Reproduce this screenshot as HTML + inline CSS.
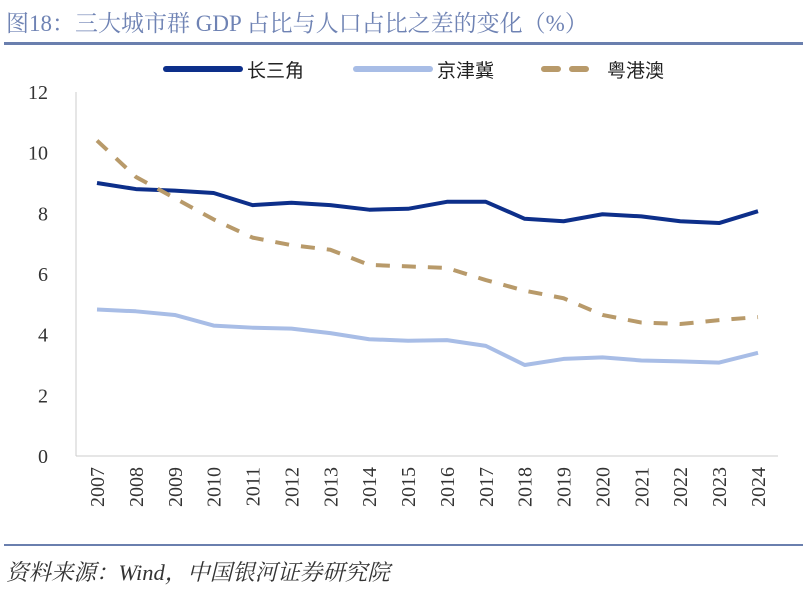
<!DOCTYPE html>
<html><head><meta charset="utf-8"><style>
body{margin:0;background:#fff;width:807px;height:587px;overflow:hidden;font-family:"Liberation Serif","Noto Serif CJK SC",serif}
</style></head><body>
<svg width="807" height="587">
<text x="6" y="31" font-size="23" fill="#6f83b4">图18：三大城市群 GDP 占比与人口占比之差的变化（%）</text>
<rect x="4" y="42" width="799" height="3" fill="#6a7fae"/>
<g id="legend" font-size="19" font-family="Liberation Sans,Noto Sans CJK SC,sans-serif" fill="#222">
<line x1="166" y1="69" x2="240" y2="69" stroke="#0d2f8a" stroke-width="6" stroke-linecap="round"/>
<text x="247" y="77">长三角</text>
<line x1="356" y1="69" x2="430" y2="69" stroke="#a8bde6" stroke-width="6" stroke-linecap="round"/>
<text x="437" y="77">京津冀</text>
<line x1="544" y1="69" x2="590" y2="69" stroke="#b89a6a" stroke-width="6" stroke-linecap="round" stroke-dasharray="14 14"/>
<text x="607" y="77">粤港澳</text>
</g>
<line x1="76" y1="92" x2="76" y2="456" stroke="#ccc"/>
<line x1="76" y1="456" x2="778" y2="456" stroke="#ccc"/>
<g id="yt"></g><g id="xt"></g><g id="lines"></g>
<rect x="4" y="544" width="799" height="2" fill="#6a7fae"/>
<text x="6" y="580" font-size="22.5" font-style="italic" fill="#333">资料来源：Wind，中国银河证券研究院</text>
</svg>
<script>
const years=[2007,2008,2009,2010,2011,2012,2013,2014,2015,2016,2017,2018,2019,2020,2021,2022,2023,2024];
const yrd=[9.0,8.8,8.75,8.67,8.27,8.35,8.27,8.12,8.15,8.38,8.38,7.82,7.74,7.97,7.9,7.74,7.68,8.07];
const bth=[4.83,4.77,4.65,4.3,4.23,4.2,4.05,3.85,3.8,3.82,3.63,3.0,3.2,3.25,3.15,3.12,3.08,3.4];
const gba=[10.4,9.2,8.5,7.8,7.2,6.95,6.8,6.3,6.25,6.2,5.8,5.45,5.2,4.65,4.4,4.35,4.48,4.58];
const yTicks=[0,2,4,6,8,10,12];
const NS='http://www.w3.org/2000/svg';
const X=i=>97+i*(758-97)/(years.length-1);
const Y=v=>456-v*(456-92)/12;
function mk(t,a,p){const e=document.createElementNS(NS,t);for(const k in a)e.setAttribute(k,a[k]);document.getElementById(p).appendChild(e);return e;}
yTicks.forEach(v=>{const t=mk('text',{x:48,y:Y(v)+7,'font-size':20,'text-anchor':'end',fill:'#333'},'yt');t.textContent=v;

});
years.forEach((y,i)=>{const t=mk('text',{x:0,y:0,'font-size':20,'text-anchor':'end',fill:'#333',transform:`translate(${X(i)+7},467) rotate(-90)`},'xt');t.textContent=y;

});
[[yrd,'#0d2f8a','','line-yangtze-delta'],[bth,'#a8bde6','','line-beijing-tianjin-hebei'],[gba,'#b89a6a','14 12','line-greater-bay-area']].forEach(([d,c,da,n])=>{
const p=mk('polyline',{points:d.map((v,i)=>X(i)+','+Y(v)).join(' '),fill:'none',stroke:c,'stroke-width':4,'stroke-dasharray':da,'stroke-linejoin':'round'},'lines');

});
</script>
</body></html>
